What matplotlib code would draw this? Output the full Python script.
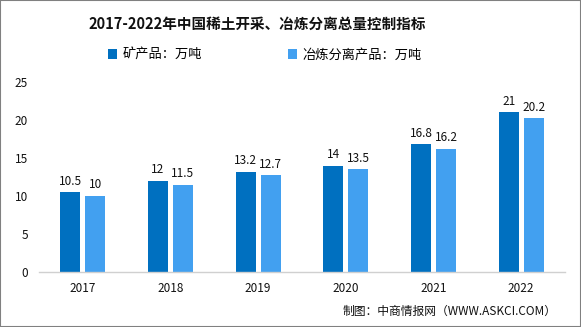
import matplotlib
matplotlib.use("Agg")
import matplotlib.pyplot as plt
from matplotlib.patches import Rectangle
import numpy as np

plt.rcParams['font.family'] = ['Noto Sans CJK SC', 'DejaVu Sans']

years = ["2017", "2018", "2019", "2020", "2021", "2022"]
mine = [10.5, 12, 13.2, 14, 16.8, 21]
smelt = [10, 11.5, 12.7, 13.5, 16.2, 20.2]
series_names = ["矿产品：万吨", "冶炼分离产品：万吨"]
title = "2017-2022年中国稀土开采、冶炼分离总量控制指标"
source = "制图：中商情报网（WWW.ASKCI.COM）"

W, H = 581, 327
fig = plt.figure(figsize=(W / 100, H / 100), dpi=100)
ax = fig.add_axes([39 / W, 1 - 272 / H, 526 / W, 190 / H])

x = np.arange(len(years))
bw = 0.228
off = 0.142
c1, c2 = "#0070C0", "#42A0F0"
b1 = ax.bar(x - off, mine, bw, color=c1, label=series_names[0])
b2 = ax.bar(x + off, smelt, bw, color=c2, label=series_names[1])
for rects, vals in ((b1, mine), (b2, smelt)):
    for r, v in zip(rects, vals):
        ax.text(r.get_x() + r.get_width() / 2, v + 0.6, f"{v:g}",
                ha="center", va="bottom", fontsize=8.5, color="#111111")

ax.set_xlim(-0.5, len(years) - 0.5)
ax.set_ylim(0, 25)
ax.set_yticks([0, 5, 10, 15, 20, 25])
ax.set_xticks(x)
ax.set_xticklabels(years)
ax.tick_params(axis="both", length=0, labelsize=8.5, colors="#111111")
ax.tick_params(axis="y", pad=8)
ax.tick_params(axis="x", pad=7)
for s in ["top", "right", "left"]:
    ax.spines[s].set_visible(False)
ax.spines["bottom"].set_color("#D0D0D0")
ax.spines["bottom"].set_linewidth(1)

fig.text(257 / W, 1 - 24 / H, title, ha="center", va="center",
         fontsize=10.5, fontweight="bold", color="#111111")
leg = fig.legend(handles=[b1, b2], loc="center", bbox_to_anchor=(265 / W, 1 - 55 / H),
                 ncol=2, frameon=False, fontsize=9.5, handlelength=0.7,
                 handleheight=0.7, columnspacing=6.5, handletextpad=0.4)
fig.text(557 / W, 1 - 311 / H, source, ha="right", va="center",
         fontsize=8.5, color="#111111")

fig.add_artist(Rectangle((0, 0), 1, 1, transform=fig.transFigure, fill=False,
                         edgecolor="#808080", linewidth=1.5))

fig.savefig("out.png", dpi=100)
